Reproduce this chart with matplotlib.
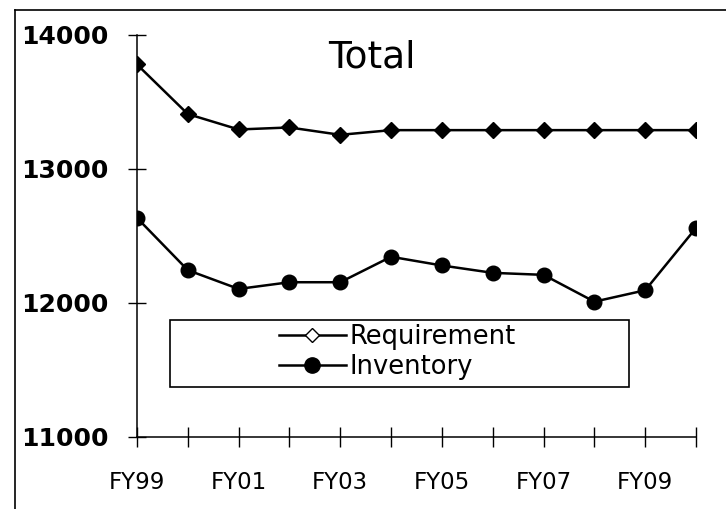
import matplotlib
matplotlib.use("Agg")
import matplotlib.pyplot as plt
from matplotlib.lines import Line2D
from matplotlib.patches import Rectangle

years = ["FY99", "FY00", "FY01", "FY02", "FY03", "FY04",
         "FY05", "FY06", "FY07", "FY08", "FY09", "FY10"]
requirement = [13780, 13410, 13295, 13310, 13255, 13290,
               13290, 13290, 13290, 13290, 13290, 13290]
inventory = [12635, 12245, 12105, 12155, 12155, 12345,
             12280, 12225, 12210, 12010, 12095, 12560]
yticks = [11000, 12000, 13000, 14000]

fig = plt.figure(figsize=(7.26, 5.09), dpi=100)
ax = fig.add_axes([137/726, 1-437/509, 559/726, 402/509])

x = list(range(len(years)))
ax.plot(x, requirement, color="black", lw=1.8, marker="D", ms=8,
        mfc="black", mec="black")
ax.plot(x, inventory, color="black", lw=1.8, marker="o", ms=10.5,
        mfc="black", mec="black")

ax.set_xlim(0, len(years) - 1)
ax.set_ylim(11000, 14000)
ax.set_yticks(yticks)
ax.set_yticklabels([str(v) for v in yticks], fontsize=18, fontweight="bold")
ax.set_xticks(x)
ax.set_xticklabels([y if i % 2 == 0 else "" for i, y in enumerate(years)],
                   fontsize=16.5)
ax.tick_params(axis="y", direction="inout", length=13, width=1, pad=14)
ax.tick_params(axis="x", direction="inout", length=15, width=1, pad=17)
for s in ["top", "right"]:
    ax.spines[s].set_visible(False)
for s in ["left", "bottom"]:
    ax.spines[s].set_linewidth(1.1)
ax.patch.set_alpha(0)

ax.text(0.42, 0.945, "Total", transform=ax.transAxes, fontsize=27,
        ha="center", va="center")

# legend box
ax.add_patch(Rectangle((0.059, 0.124), 0.821, 0.167, transform=ax.transAxes,
                       fill=False, edgecolor="black", lw=1.2, clip_on=False))
handles = [Line2D([], [], color="black", lw=1.8, marker="D", ms=7,
                  mfc="white", mec="black"),
           Line2D([], [], color="black", lw=1.8, marker="o", ms=11,
                  mfc="black", mec="black")]
ax.legend(handles, ["Requirement", "Inventory"], loc="center left",
          bbox_to_anchor=(0.254, 0.211), frameon=False, fontsize=18.5,
          borderpad=0, borderaxespad=0, handlelength=2.6,
          handletextpad=0.15, labelspacing=0.16)

# outer page frame
fig.add_artist(Line2D([15/726, 15/726], [0, 1-10/509], color="black", lw=1.2,
                      transform=fig.transFigure))
fig.add_artist(Line2D([15/726, 1], [1-10/509, 1-10/509], color="black", lw=1.2,
                      transform=fig.transFigure))

fig.savefig("out.png", dpi=100)
